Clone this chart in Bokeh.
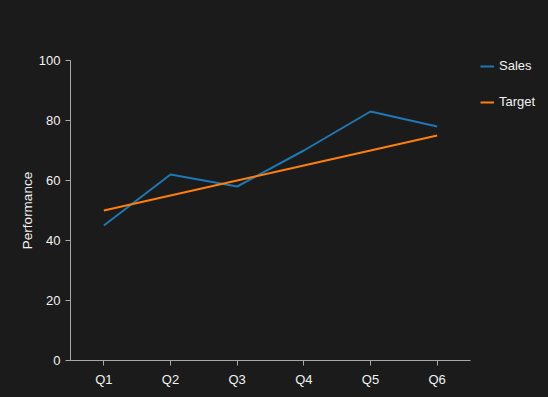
from bokeh.plotting import figure
from bokeh.models import Legend, LegendItem, Range1d, FactorRange
from bokeh.embed import file_html
from bokeh.resources import INLINE

quarters = ["Q1", "Q2", "Q3", "Q4", "Q5", "Q6"]
sales = [45, 62, 58, 70, 83, 78]
target = [50, 55, 60, 65, 70, 75]

BG = "#1b1b1b"
TXT = "#f2f2f2"
AX = "#aaaaaa"
FONT = "Liberation Sans"

p = figure(x_range=FactorRange(*quarters), y_range=Range1d(0, 100),
           frame_width=400, frame_height=300, output_backend="svg", toolbar_location=None,
           min_border_left=70, min_border_right=78, min_border_top=60, min_border_bottom=37)
p.background_fill_color = BG
p.border_fill_color = BG
p.outline_line_color = None
p.xgrid.visible = False
p.ygrid.visible = False

for ax in (p.xaxis[0], p.yaxis[0]):
    ax.axis_line_color = AX
    ax.major_tick_line_color = AX
    ax.minor_tick_line_color = None
    ax.major_tick_in = 0
    ax.major_tick_out = 5
    ax.major_label_text_color = TXT
    ax.major_label_text_font = FONT
    ax.major_label_text_font_size = "13px"
    ax.major_label_standoff = 5
    ax.axis_label_text_color = TXT
    ax.axis_label_text_font = FONT
    ax.axis_label_text_font_style = "normal"
    ax.axis_label_text_font_size = "13.5px"

p.xaxis.major_label_standoff = 6
p.yaxis.ticker = [0, 20, 40, 60, 80, 100]
p.yaxis.axis_label = "Performance"
p.yaxis.axis_label_standoff = 1

r1 = p.line(quarters, sales, line_color="#1f77b4", line_width=2)
r2 = p.line(quarters, target, line_color="#ff7f0e", line_width=2)

legend = Legend(items=[LegendItem(label="Sales", renderers=[r1]),
                       LegendItem(label="Target", renderers=[r2])],
                location=(10, 251))
legend.background_fill_alpha = 0
legend.border_line_color = None
legend.padding = 0
legend.margin = 0
legend.spacing = 21
legend.glyph_width = 14
legend.glyph_height = 14
legend.label_height = 14
legend.label_standoff = 5
legend.label_text_color = TXT
legend.label_text_font = FONT
legend.label_text_font_size = "13px"
p.add_layout(legend, "right")

html = file_html(p, INLINE)
html = html.replace("<head>", "<head><style>html,body{background:%s;}</style>" % BG, 1)
open("out.html", "w").write(html)
